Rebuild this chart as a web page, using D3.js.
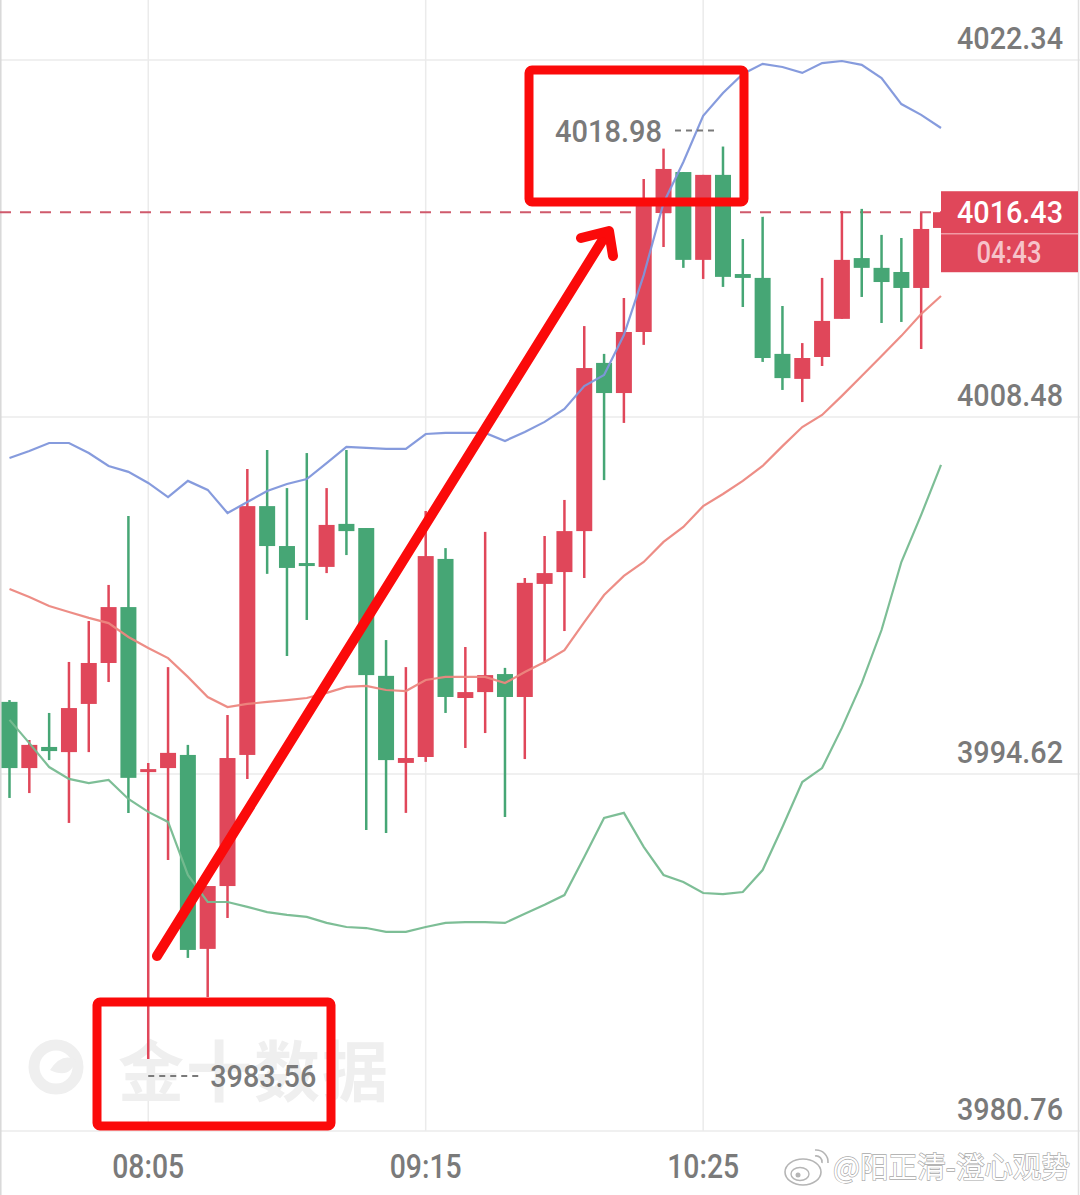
<!DOCTYPE html>
<html>
<head>
<meta charset="utf-8">
<script src="https://cdn.jsdelivr.net/npm/d3@7"></script>
<style>
  html, body { margin: 0; padding: 0; background: #fff; }
  svg { display: block; }
</style>
</head>
<body>
<svg id="chart" width="1080" height="1195"></svg>
<script>
// 5-minute candles, first one at 07:30
const opens  = [3997.42,3994.85,3995.67,3995.47,3997.34,3998.93,4001.10,3994.70,3994.85,3995.36,
                3987.83,3990.27,3995.36,4005.02,4003.47,4002.81,4002.66,4004.33,4004.17,3998.43,
                3995.05,3995.28,4002.97,3997.57,3997.80,3998.50,3997.61,4002.00,4002.46,4004.05,
                4010.58,4009.41,4011.78,4016.40,4017.99,4014.58,4017.88,4014.03,4013.88,4010.93,
                4009.96,4010.81,4012.29,4014.65,4014.27,4014.11,4013.49,4015.82];
const highs  = [3997.49,3995.94,3996.99,3998.97,4000.56,4001.96,4004.64,3995.05,3998.77,3995.75,
                3990.27,3996.91,4006.46,4007.20,4005.72,4007.08,4005.72,4007.20,4004.17,3999.82,
                3998.77,4004.83,4003.39,3999.55,4004.02,3998.74,4002.23,4003.86,4005.26,4012.01,
                4010.93,4013.10,4017.72,4018.90,4017.99,4017.88,4018.98,4015.39,4016.25,4012.79,
                4011.35,4013.88,4016.48,4016.56,4015.55,4015.43,4016.40,4016.43];
const lows   = [3993.69,3993.88,3995.16,3992.72,3995.47,3998.19,3993.11,3983.56,3991.28,3987.48,
                3985.96,3989.03,3994.43,4002.39,3999.20,4000.60,4002.42,4003.12,3992.45,3992.33,
                3993.11,3995.09,3996.99,3995.63,3996.21,3992.95,3995.20,3998.93,4000.17,4002.23,
                4006.03,4008.25,4011.28,4015.08,4014.27,4013.84,4013.53,4012.75,4010.62,4009.53,
                4009.06,4010.46,4012.29,4013.14,4012.13,4012.17,4011.12,4015.82];
const closes = [3994.85,3995.75,3995.51,3997.18,3998.93,4001.10,3994.47,3994.81,3995.44,3987.79,
                3990.27,3995.24,4005.02,4003.47,4002.62,4002.73,4004.29,4004.05,3998.46,3995.16,
                3995.24,4003.08,3997.61,3997.80,3998.46,3997.61,4002.04,4002.42,4004.05,4010.38,
                4009.41,4011.78,4016.90,4018.11,4014.58,4017.88,4013.92,4013.88,4010.77,4009.99,
                4010.77,4012.21,4014.58,4014.27,4013.72,4013.49,4015.78,4016.43];

// Bollinger bands
const upperBand = [4006.89,4007.16,4007.47,4007.47,4007.08,4006.58,4006.35,4005.92,4005.37,4006.00,
                   4005.65,4004.75,4005.18,4005.61,4005.88,4006.07,4006.69,4007.32,4007.28,4007.24,
                   4007.24,4007.82,4007.86,4007.86,4007.86,4007.55,4007.90,4008.29,4008.79,4009.68,
                   4010.11,4011.66,4013.99,4016.79,4018.38,4020.17,4021.06,4021.80,4022.19,4022.07,
                   4021.84,4022.22,4022.30,4022.15,4021.64,4020.63,4020.21,4019.70];
const midBand   = [4001.80,4001.49,4001.14,4000.91,4000.68,4000.48,3999.94,3999.51,3999.12,3998.39,
                   3997.61,3997.22,3997.34,3997.42,3997.49,3997.57,3997.77,3998.00,3998.04,3997.88,
                   3997.84,3998.27,3998.39,3998.39,3998.39,3998.15,3998.58,3998.97,3999.43,4000.52,
                   4001.57,4002.31,4002.85,4003.63,4004.21,4005.02,4005.49,4006.00,4006.58,4007.35,
                   4008.09,4008.56,4009.30,4010.07,4010.85,4011.63,4012.48,4013.18];
const lowerBand = [3996.72,3995.82,3994.89,3994.43,3994.27,3994.39,3993.65,3993.15,3992.76,3990.70,
                   3989.65,3989.65,3989.46,3989.26,3989.15,3989.07,3988.84,3988.68,3988.64,3988.49,
                   3988.49,3988.68,3988.84,3988.87,3988.87,3988.84,3989.19,3989.54,3989.92,3991.40,
                   3992.91,3993.11,3991.79,3990.70,3990.43,3990.00,3989.96,3990.04,3990.89,3992.56,
                   3994.31,3994.85,3996.41,3998.15,4000.21,4002.85,4004.68,4006.62];

const yTicks = [4022.34, 4008.48, 3994.62, 3980.76];
const xTicks = ["08:05", "09:15", "10:25"];
const lastPrice = 4016.43;
const countdown = "04:43";

const upColor = "#e0475a", downColor = "#46a675";
const labelFont = "Roboto, 'DejaVu Sans', sans-serif";

const parseT = d3.timeParse("%H:%M");
const times = opens.map((d, i) => d3.timeMinute.offset(parseT("07:30"), i * 5));

const svg = d3.select("#chart");

const x = d3.scaleTime()
  .domain([parseT("07:30"), parseT("11:25")])
  .range([9.5, 941]);
const y = d3.scaleLinear()
  .domain([3980.76, 4022.34])
  .range([1131, 60]);

// grid
svg.append("g").selectAll("line").data(yTicks).join("line")
  .attr("x1", 0).attr("x2", 1080)
  .attr("y1", d => y(d)).attr("y2", d => y(d))
  .attr("stroke", "#ebebeb").attr("stroke-width", 1.5);
svg.append("g").selectAll("line").data(xTicks).join("line")
  .attr("x1", d => x(parseT(d))).attr("x2", d => x(parseT(d)))
  .attr("y1", 0).attr("y2", y(3980.76))
  .attr("stroke", "#ebebeb").attr("stroke-width", 1.5);
svg.append("line").attr("x1", 0.8).attr("x2", 0.8).attr("y1", 0).attr("y2", 1195)
  .attr("stroke", "#d8d8d8").attr("stroke-width", 1.5);
svg.append("line").attr("x1", 1078.5).attr("x2", 1078.5).attr("y1", 0).attr("y2", 1195)
  .attr("stroke", "#e0e0e0").attr("stroke-width", 1.5);

// watermark
const wm = svg.append("g").attr("fill", "#efefef");
wm.append("circle").attr("cx", 56).attr("cy", 1067).attr("r", 22)
  .attr("fill", "none").attr("stroke", "#efefef").attr("stroke-width", 11);
wm.append("path").attr("d", "M50,1070 Q62,1052 76,1060 Q70,1080 50,1070Z");
wm.append("text").attr("x", 118).attr("y", 1096)
  .attr("font-family", "'Noto Sans CJK SC'").attr("font-weight", 700)
  .attr("font-size", 66).attr("textLength", 270).text("金十数据");

// axis labels
svg.append("g").selectAll("text").data(yTicks).join("text")
  .attr("x", 1063).attr("y", d => y(d) - 11)
  .attr("text-anchor", "end")
  .attr("font-family", labelFont).attr("font-weight", 500).attr("font-size", 31)
  .attr("fill", "#7a7a7a")
  .attr("textLength", 106).attr("lengthAdjust", "spacingAndGlyphs")
  .text(d => d.toFixed(2));
svg.append("g").selectAll("text").data(xTicks).join("text")
  .attr("x", d => x(parseT(d))).attr("y", 1178)
  .attr("text-anchor", "middle")
  .attr("font-family", labelFont).attr("font-weight", 500).attr("font-size", 33)
  .attr("fill", "#7a7a7a")
  .attr("textLength", 72).attr("lengthAdjust", "spacingAndGlyphs")
  .text(d => d);

// last price dashed line (under candles)
svg.append("line")
  .attr("x1", 0).attr("x2", 941)
  .attr("y1", y(lastPrice)).attr("y2", y(lastPrice))
  .attr("stroke", "#cf5a6c").attr("stroke-width", 2)
  .attr("stroke-dasharray", "11,9");

// candles
const candles = svg.append("g").selectAll("g").data(opens).join("g")
  .attr("fill", (d, i) => closes[i] >= d ? upColor : downColor)
  .attr("stroke", (d, i) => closes[i] >= d ? upColor : downColor);
candles.append("line")
  .attr("x1", (d, i) => x(times[i])).attr("x2", (d, i) => x(times[i]))
  .attr("y1", (d, i) => y(highs[i])).attr("y2", (d, i) => y(lows[i]))
  .attr("stroke-width", 2.5);
candles.append("rect")
  .attr("stroke", "none")
  .attr("x", (d, i) => x(times[i]) - 8).attr("width", 16)
  .attr("y", (d, i) => y(Math.max(d, closes[i])))
  .attr("height", (d, i) => Math.max(3, Math.abs(y(d) - y(closes[i]))));

// bands
const line = d3.line().x((d, i) => x(times[i])).y(d => y(d));
[[upperBand, "#8096db"], [midBand, "#ec8780"], [lowerBand, "#76bb90"]].forEach(([band, c]) => {
  svg.append("path").datum(band)
    .attr("d", line).attr("fill", "none")
    .attr("stroke", c).attr("stroke-width", 2.2).attr("opacity", 0.95);
});

// price tag
const py = y(lastPrice);
svg.append("rect").attr("x", 941).attr("y", py - 21).attr("width", 137).attr("height", 81)
  .attr("fill", upColor);
svg.append("line").attr("x1", 941).attr("x2", 1078).attr("y1", py + 21.5).attr("y2", py + 21.5)
  .attr("stroke", "#f19aa4").attr("stroke-width", 1.5);
svg.append("text").attr("x", 1063).attr("y", py + 11)
  .attr("text-anchor", "end").attr("font-family", labelFont).attr("font-weight", 500)
  .attr("font-size", 31).attr("fill", "#fff")
  .attr("textLength", 106).attr("lengthAdjust", "spacingAndGlyphs")
  .text(lastPrice.toFixed(2));
svg.append("text").attr("x", 1009).attr("y", py + 51)
  .attr("text-anchor", "middle").attr("font-family", labelFont).attr("font-weight", 500)
  .attr("font-size", 31).attr("fill", "#f6c3ca")
  .attr("textLength", 65).attr("lengthAdjust", "spacingAndGlyphs")
  .text(countdown);

// high / low markers
const maxHigh = d3.max(highs), iMax = highs.indexOf(maxHigh);
const minLow = d3.min(lows), iMin = lows.indexOf(minLow);
const hx = x(times[iMax]), hy = y(maxHigh) - 16;
svg.append("line").attr("x1", hx - 48).attr("x2", hx - 7).attr("y1", hy).attr("y2", hy)
  .attr("stroke", "#7a7a7a").attr("stroke-width", 2).attr("stroke-dasharray", "6,5");
svg.append("text").attr("x", hx - 61).attr("y", hy + 11)
  .attr("text-anchor", "end").attr("font-family", labelFont).attr("font-weight", 500)
  .attr("font-size", 31).attr("fill", "#7a7a7a")
  .attr("textLength", 107).attr("lengthAdjust", "spacingAndGlyphs")
  .text(maxHigh.toFixed(2));
const lx = x(times[iMin]), ly = y(minLow) + 17;
svg.append("line").attr("x1", lx).attr("x2", lx + 55).attr("y1", ly).attr("y2", ly)
  .attr("stroke", "#7a7a7a").attr("stroke-width", 2).attr("stroke-dasharray", "6,5");
svg.append("text").attr("x", lx + 62).attr("y", ly + 11)
  .attr("font-family", labelFont).attr("font-weight", 500)
  .attr("font-size", 31).attr("fill", "#7a7a7a")
  .attr("textLength", 106).attr("lengthAdjust", "spacingAndGlyphs")
  .text(minLow.toFixed(2));

// hand-drawn annotations
const ann = svg.append("g").attr("fill", "none").attr("stroke", "#fb0a0a")
  .attr("stroke-linecap", "round").attr("stroke-linejoin", "round");
ann.append("rect").attr("x", 529).attr("y", 70).attr("width", 215).attr("height", 132)
  .attr("rx", 3).attr("stroke-width", 9);
ann.append("rect").attr("x", 97).attr("y", 1002).attr("width", 234).attr("height", 124)
  .attr("rx", 3).attr("stroke-width", 9);
ann.append("path").attr("d", "M157,956 L607,233").attr("stroke-width", 10);
ann.append("path").attr("d", "M581,238 L609,231 L613,256").attr("stroke-width", 10);

// weibo watermark
const wb = svg.append("g");
wb.append("ellipse").attr("cx", 803).attr("cy", 1172).attr("rx", 18).attr("ry", 13)
  .attr("fill", "#fff").attr("stroke", "#b5b5b5").attr("stroke-width", 1.6);
wb.append("ellipse").attr("cx", 800).attr("cy", 1174).attr("rx", 9).attr("ry", 6.5)
  .attr("fill", "#fff").attr("stroke", "#b5b5b5").attr("stroke-width", 1.4);
wb.append("circle").attr("cx", 798).attr("cy", 1175).attr("r", 2.5).attr("fill", "#b5b5b5");
wb.append("path").attr("d", "M815,1150 A12,12 0 0 1 828,1163").attr("fill", "none")
  .attr("stroke", "#b5b5b5").attr("stroke-width", 1.6);
wb.append("path").attr("d", "M815,1156 A6,6 0 0 1 822,1163").attr("fill", "none")
  .attr("stroke", "#b5b5b5").attr("stroke-width", 1.6);
wb.append("text").attr("x", 833).attr("y", 1178)
  .attr("font-family", "'Noto Sans CJK SC'").attr("font-size", 29)
  .attr("fill", "#fff").attr("stroke", "#a8a8a8").attr("stroke-width", 1.3)
  .attr("paint-order", "stroke")
  .attr("textLength", 237).attr("lengthAdjust", "spacingAndGlyphs")
  .text("@阳正清-澄心观势");
</script>
</body>
</html>
